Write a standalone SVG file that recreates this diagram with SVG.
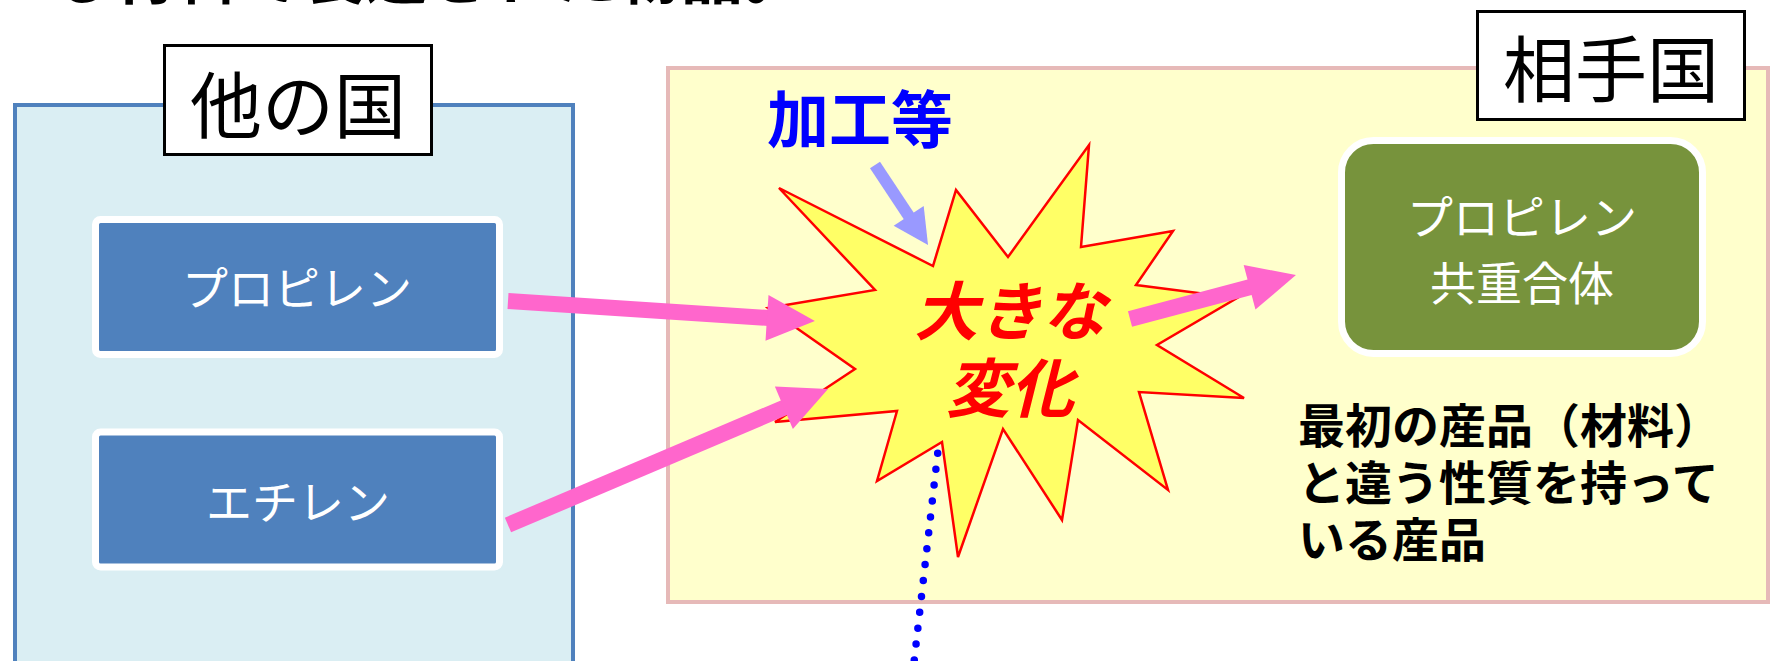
<svg xmlns="http://www.w3.org/2000/svg" width="1772" height="661" viewBox="0 0 1772 661">
<style>
.jp{font-family:"Noto Sans CJK JP","Noto Sans",sans-serif}
.lbl{font-size:72px;fill:#000;text-anchor:middle}
.lblbox{fill:#fff;stroke:#000;stroke-width:3}
.wt{font-size:46px;fill:#fff;text-anchor:middle}
.bk{font-size:47px;font-weight:bold;fill:#000}
.pink{stroke:#FF66CC;stroke-width:16;fill:none}
</style>
<defs>
<marker id="ph" markerUnits="userSpaceOnUse" markerWidth="50" markerHeight="50" viewBox="0 -25 50 50" refX="2" refY="0" orient="auto" overflow="visible">
<path d="M0,-23 L48,0 L0,23 z" fill="#FF66CC"/>
</marker>
<marker id="lh" markerUnits="userSpaceOnUse" markerWidth="40" markerHeight="40" viewBox="0 -20 40 40" refX="2" refY="0" orient="auto" overflow="visible">
<path d="M0,-18 L35,0 L0,18 z" fill="#9999FF"/>
</marker>
</defs>
<rect width="1772" height="661" fill="#fff"/>
<text class="jp" x="50" y="-1" font-size="62" font-weight="bold" textLength="756" lengthAdjust="spacing">る材料で製造された物品。</text>

<g id="other-country">
<rect x="15" y="105" width="558" height="580" fill="#DAEEF3" stroke="#4F81BD" stroke-width="4"/>
<rect class="lblbox" x="164.5" y="45.5" width="267" height="109"/>
<text class="jp lbl" x="298" y="132">他の国</text>
</g>
<g id="partner-country">
<rect x="668" y="68" width="1100" height="534" fill="#FFFFCC" stroke="#E6B9B8" stroke-width="4"/>
<rect class="lblbox" x="1477.5" y="11.5" width="267" height="108"/>
<text class="jp lbl" x="1611" y="96">相手国</text>
</g>
<g id="propylene">
<rect x="95.5" y="219.5" width="404" height="135" rx="5" fill="#4F81BD" stroke="#fff" stroke-width="7"/>
<text class="jp wt" x="297" y="305">プロピレン</text>
</g>
<g id="ethylene">
<rect x="95.5" y="432" width="404" height="135" rx="5" fill="#4F81BD" stroke="#fff" stroke-width="7"/>
<text class="jp wt" x="298" y="519">エチレン</text>
</g>
<g id="processing-label">
<text class="jp" x="767" y="143" font-size="62" font-weight="bold" fill="#0000FF">加工等</text>
</g>
<g id="big-change">
<polygon points="779,188 933,266 956,190 1008,257 1089,145 1081,247 1173,231 1136,285 1237,298 1157,345 1244,398 1139,392 1168,490 1078,420 1062,520 1003,429 958,557 942,442 877,481 897,411 775,422 855,369 768,308 875,290" fill="#FFFF66" stroke="#FF0000" stroke-width="2.5" stroke-linejoin="miter"/>
<text class="jp" x="1010" y="335" font-size="64" font-weight="bold" font-style="italic" fill="#FF0000" text-anchor="middle">大きな</text>
<text class="jp" x="1010" y="412" font-size="64" font-weight="bold" font-style="italic" fill="#FF0000" text-anchor="middle">変化</text>
</g>
<g id="copolymer">
<rect x="1341.5" y="140.5" width="361" height="213" rx="32" fill="#77933C" stroke="#fff" stroke-width="7"/>
<text class="jp wt" x="1522" y="234">プロピレン</text>
<text class="jp wt" x="1522" y="300" font-size="48">共重合体</text>
</g>
<g id="description">
<text class="jp bk" x="1298" y="443">最初の産品（材料）</text>
<text class="jp bk" x="1298" y="500">と違う性質を持って</text>
<text class="jp bk" x="1298" y="557">いる産品</text>
</g>
<g id="connectors">
<line class="pink" x1="508" y1="301" x2="769" y2="318" marker-end="url(#ph)"/>
<line class="pink" x1="508" y1="525" x2="785.7" y2="407" marker-end="url(#ph)"/>
<line class="pink" x1="1130" y1="319" x2="1251.5" y2="286.8" marker-end="url(#ph)"/>
<line x1="875" y1="165" x2="909.8" y2="217.5" stroke="#9999FF" stroke-width="12" marker-end="url(#lh)"/>
<line x1="937.7" y1="453.3" x2="912" y2="680" stroke="#0000FF" stroke-width="7.5" stroke-linecap="round" stroke-dasharray="0 16"/>
</g>
</svg>
